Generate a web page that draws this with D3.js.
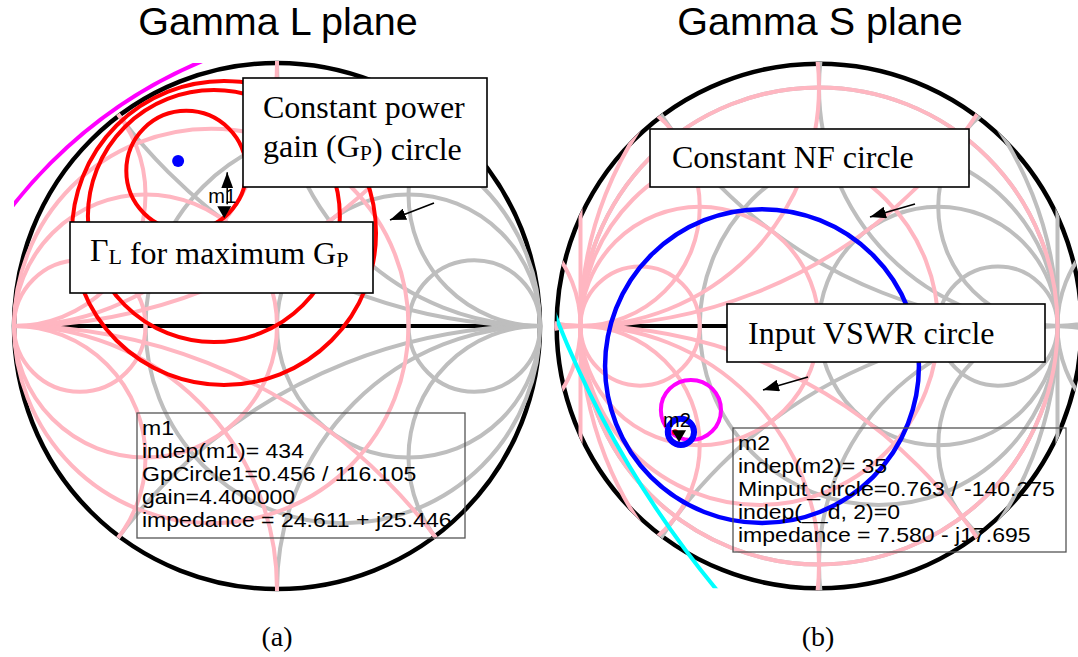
<!DOCTYPE html>
<html>
<head>
<meta charset="utf-8">
<script src="https://cdn.jsdelivr.net/npm/d3@7"></script>
<style>
  html, body { margin: 0; padding: 0; background: #fff; }
  svg { display: block; }
</style>
</head>
<body>
<svg id="fig" width="1078" height="657"></svg>
<script>
// ---- Smith chart grid values (normalised impedance / admittance) ----
const resistanceValues = [1/3, 1, 3];
const reactanceValues = [0.5, 1, 2];
const negativeResistanceValues = [-1/3, -3];   // only visible where the chart extends past |Γ| = 1

// ---- Gamma L plane traces (reflection-coefficient units) ----
const gpCircleCenters = [[-0.345, 0.59], [-0.24, 0.418], [-0.2015, 0.3536]];
const gpCircleRadii = [0.228, 0.479, 0.578];
const gammaLMax = [-0.376, 0.627];
const loadStabilityCenter = [0.414, -0.654];
const loadStabilityRadius = 1.802;
const m1Polar = [0.456, 116.105];
const m1Readout = ["m1", "indep(m1)= 434", "GpCircle1=0.456 / 116.105", "gain=4.400000", "impedance = 24.611 + j25.446"];

// ---- Gamma S plane traces ----
const nfCircleCenter = [-0.239, -0.168];
const nfCircleRadius = 0.658;
const vswrCircleCenter = [-0.537, -0.352];
const vswrCircleRadius = 0.126;
const minputCircleCenter = [-0.579, -0.444];
const minputCircleRadius = 0.055;
const sourceStabilityCenter = [2.876, 1.614];
const sourceStabilityRadius = 4.28;
const m2Polar = [0.763, -140.275];
const m2Readout = ["m2", "indep(m2)= 35", "Minput_circle=0.763 / -140.275", "indep(__d, 2)=0", "impedance = 7.580 - j17.695"];

// ---- titles and captions ----
const titles = ["Gamma L plane", "Gamma S plane"];
const captions = ["(a)", "(b)"];

const SANS = "'Liberation Sans', Arial, sans-serif";
const SERIF = "'Liberation Serif', 'Times New Roman', serif";
const GRAY = "#bebebe", PINK = "#ffb6c1";

const svg = d3.select("#fig");
const defs = svg.append("defs");
defs.append("marker")
  .attr("id", "arrowHead")
  .attr("markerUnits", "userSpaceOnUse")
  .attr("markerWidth", 16).attr("markerHeight", 12)
  .attr("refX", 16).attr("refY", 6)
  .attr("orient", "auto")
  .append("path").attr("d", "M0,0 L16,6 L0,12 Z").attr("fill", "#000");

function polar(p) {
  const a = p[1] * Math.PI / 180;
  return [p[0] * Math.cos(a), p[0] * Math.sin(a)];
}

function gridSet(extended) {
  const imp = [];
  resistanceValues.forEach(r => imp.push({cx: r / (1 + r), cy: 0, r: 1 / (1 + r)}));
  reactanceValues.forEach(x => {
    imp.push({cx: 1, cy: 1 / x, r: 1 / x});
    imp.push({cx: 1, cy: -1 / x, r: 1 / x});
  });
  if (extended) {
    negativeResistanceValues.forEach(r => imp.push({cx: r / (1 + r), cy: 0, r: Math.abs(1 / (1 + r))}));
    imp.push({cx: 0, cy: 0, r: 1});
  }
  const adm = imp.map(c => ({cx: -c.cx, cy: c.cy, r: c.r}));
  return {imp, adm};
}

// Draws one Smith chart frame and returns its scales
function smithFrame(id, cx, cy, R, outer) {
  const sx = d3.scaleLinear().domain([-1, 1]).range([cx - R, cx + R]);
  const sy = d3.scaleLinear().domain([-1, 1]).range([cy + R, cy - R]);
  const len = v => v * R;
  const Ro = outer * R;

  defs.append("clipPath").attr("id", id + "-disk")
    .append("circle").attr("cx", cx).attr("cy", cy).attr("r", Ro + 2);
  defs.append("clipPath").attr("id", id + "-box")
    .append("rect").attr("x", cx - Ro).attr("y", cy - Ro).attr("width", 2 * Ro).attr("height", 2 * Ro);

  const g = svg.append("g").attr("class", id);

  // outer boundary and real axis
  g.append("circle").attr("cx", cx).attr("cy", cy).attr("r", Ro)
    .attr("fill", "none").attr("stroke", "#000").attr("stroke-width", 4.5);
  g.append("line").attr("x1", sx(-1)).attr("x2", sx(1)).attr("y1", sy(0)).attr("y2", sy(0))
    .attr("stroke", "#000").attr("stroke-width", 4);

  // impedance (gray) and admittance (pink) grids
  const grid = gridSet(outer > 1);
  const gg = g.append("g").attr("clip-path", `url(#${id}-disk)`).attr("fill", "none").attr("stroke-width", 4);
  gg.selectAll("circle.imp").data(grid.imp).join("circle").attr("class", "imp")
    .attr("cx", d => sx(d.cx)).attr("cy", d => sy(d.cy)).attr("r", d => len(d.r))
    .attr("stroke", GRAY);
  if (outer > 1) {
    gg.append("line").attr("x1", sx(1)).attr("x2", sx(1)).attr("y1", sy(-2)).attr("y2", sy(2)).attr("stroke", GRAY);
  }
  gg.selectAll("circle.adm").data(grid.adm).join("circle").attr("class", "adm")
    .attr("cx", d => sx(d.cx)).attr("cy", d => sy(d.cy)).attr("r", d => len(d.r))
    .attr("stroke", PINK);
  if (outer > 1) {
    gg.append("line").attr("x1", sx(-1)).attr("x2", sx(-1)).attr("y1", sy(-2)).attr("y2", sy(2)).attr("stroke", PINK);
  }

  const traces = g.append("g").attr("clip-path", `url(#${id}-box)`).attr("fill", "none");
  return {sx, sy, len, g, traces};
}

function traceCircle(f, c, r, color, width) {
  f.traces.append("circle").attr("cx", f.sx(c[0])).attr("cy", f.sy(c[1])).attr("r", f.len(r))
    .attr("stroke", color).attr("stroke-width", width).attr("fill", "none");
}

function markerAt(f, p, label) {
  const x = f.sx(p[0]), y = f.sy(p[1]);
  f.g.append("path").attr("d", `M${x - 7},${y - 12} L${x + 7},${y - 12} L${x},${y} Z`).attr("fill", "#000");
  f.g.append("text").attr("x", x - 16).attr("y", y - 15).attr("font-family", SANS).attr("font-size", 20)
    .attr("fill", "#000").text(label);
  return [x, y];
}

// marker readout: a compact, slightly wide sans face in an unfilled frame
function readout(lines, x, y, w, h) {
  svg.append("rect").attr("x", x).attr("y", y).attr("width", w).attr("height", h)
    .attr("fill", "none").attr("stroke", "#555").attr("stroke-width", 1.3);
  const sxw = 1.13;
  svg.append("g").attr("transform", `translate(${x + 5},${y}) scale(${sxw},1)`)
    .selectAll("text").data(lines).join("text")
    .attr("x", 0).attr("y", (d, i) => 22 + i * 23)
    .attr("font-family", SANS).attr("font-size", 20.4).attr("fill", "#000")
    .text(d => d);
}

function callout(x, y, w, h) {
  svg.append("rect").attr("x", x).attr("y", y).attr("width", w).attr("height", h)
    .attr("fill", "#fff").attr("stroke", "#000").attr("stroke-width", 1.6);
}

// pieces: [text, isSubscript]
function richText(x, y, pieces) {
  const t = svg.append("text").attr("x", x).attr("y", y)
    .attr("font-family", SERIF).attr("font-size", 32).attr("fill", "#000");
  pieces.forEach(([s, sub]) => {
    t.append("tspan").attr("font-size", sub ? 22 : 32).attr("dy", sub ? 3 : 0).text(s);
    if (sub) t.append("tspan").attr("dy", -3).text("");
  });
}

function arrow(x1, y1, x2, y2) {
  svg.append("line").attr("x1", x1).attr("y1", y1).attr("x2", x2).attr("y2", y2)
    .attr("stroke", "#000").attr("stroke-width", 1.6).attr("marker-end", "url(#arrowHead)");
}

// ================= (a) Gamma L plane =================
const L = smithFrame("gl", 277, 326, 263, 1.0);
traceCircle(L, loadStabilityCenter, loadStabilityRadius, "#ff00ff", 4);
gpCircleCenters.forEach((c, i) => traceCircle(L, c, gpCircleRadii[i], "#ff0000", 4));
L.g.append("circle").attr("cx", L.sx(gammaLMax[0])).attr("cy", L.sy(gammaLMax[1])).attr("r", 6).attr("fill", "#0000ff");
const m1xy = markerAt(L, polar(m1Polar), "m1");
// double-headed pointer above the marker
svg.append("line").attr("x1", m1xy[0] + 3).attr("x2", m1xy[0] + 3).attr("y1", m1xy[1] - 14).attr("y2", m1xy[1] - 46)
  .attr("stroke", "#000").attr("stroke-width", 1.6).attr("marker-end", "url(#arrowHead)");

readout(m1Readout, 137, 413, 328, 125);
callout(243, 78, 244, 109);
richText(263, 118, [["Constant power", false]]);
richText(263, 157, [["gain (G", false], ["P", true], [") circle", false]]);
arrow(434, 203, 390, 220);
callout(70, 222, 303, 71);
richText(90, 261, [["Γ", false], ["L", true], [" for maximum G", false], ["P", true]]);

// ================= (b) Gamma S plane =================
const S = smithFrame("gs", 819, 326, 238.5, 1.1);
traceCircle(S, sourceStabilityCenter, sourceStabilityRadius, "#00ffff", 4);
traceCircle(S, nfCircleCenter, nfCircleRadius, "#0000ff", 4.5);
traceCircle(S, vswrCircleCenter, vswrCircleRadius, "#ff00ff", 4);
traceCircle(S, minputCircleCenter, minputCircleRadius, "#0000ff", 6);
const m2p = polar(m2Polar);
S.g.append("circle").attr("cx", S.sx(m2p[0]) - 4).attr("cy", S.sy(m2p[1]) - 10).attr("r", 3).attr("fill", "#ff0000");
markerAt(S, m2p, "m2");

readout(m2Readout, 733, 428, 333, 124);
callout(650, 129, 319, 58);
richText(672, 168, [["Constant NF circle", false]]);
arrow(915, 204, 870, 217);
callout(727, 304, 318, 58);
richText(748, 344, [["Input VSWR circle", false]]);
arrow(808, 377, 763, 390);

// ---- titles and captions ----
svg.selectAll("text.title").data(titles).join("text").attr("class", "title")
  .attr("x", (d, i) => [278, 820][i]).attr("y", 35).attr("text-anchor", "middle")
  .attr("font-family", SANS).attr("font-size", 39.5).attr("fill", "#000").text(d => d);
svg.selectAll("text.caption").data(captions).join("text").attr("class", "caption")
  .attr("x", (d, i) => [277, 818][i]).attr("y", 646).attr("text-anchor", "middle")
  .attr("font-family", SERIF).attr("font-size", 28).attr("fill", "#000").text(d => d);
</script>
</body>
</html>
